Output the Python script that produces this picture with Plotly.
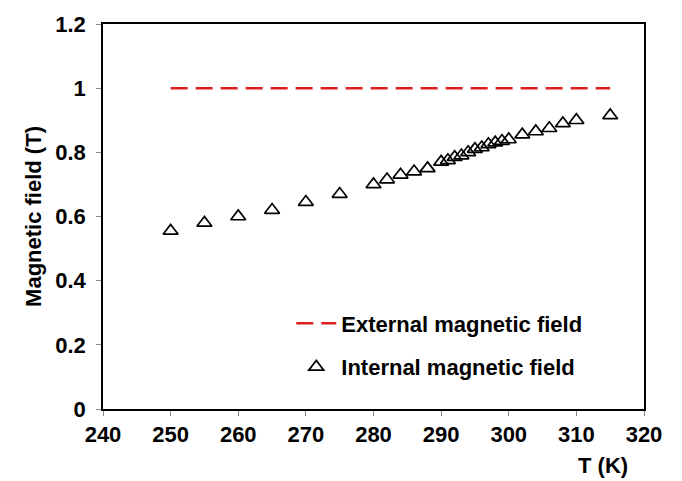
import plotly.graph_objects as go

ext_T = [250, 315]
ext_B = [1.0, 1.0]

int_T = [250, 255, 260, 265, 270, 275, 280, 282, 284, 286, 288, 290, 291, 292, 293,
         294, 295, 296, 297, 298, 299, 300, 302, 304, 306, 308, 310, 315]
int_B = [0.555, 0.58, 0.60, 0.62, 0.645, 0.67, 0.70, 0.715, 0.73, 0.74, 0.75, 0.77,
         0.775, 0.785, 0.79, 0.80, 0.81, 0.815, 0.825, 0.83, 0.835, 0.84, 0.855,
         0.865, 0.875, 0.89, 0.90, 0.915]

x_ticks = [240, 250, 260, 270, 280, 290, 300, 310, 320]
y_ticks = [0, 0.2, 0.4, 0.6, 0.8, 1, 1.2]
y_tick_text = ["0", "0.2", "0.4", "0.6", "0.8", "1", "1.2"]

font_family = "Liberation Sans, Arial, sans-serif"
bold = dict(family=font_family, size=22, color="black", weight="bold")

fig = go.Figure()
fig.add_trace(go.Scatter(
    x=ext_T, y=ext_B, mode="lines", name="External magnetic field",
    line=dict(color="#dd1f1f", width=2.5, dash="17px,8px"),
    legendgroup="a",
))
fig.add_trace(go.Scatter(
    x=int_T, y=int_B, mode="markers", name="Internal magnetic field",
    marker=dict(symbol="triangle-up-open", size=13, color="black",
                line=dict(width=1.7, color="black")),
    legendgroup="b",
))

fig.update_layout(
    width=682, height=481,
    margin=dict(l=103, r=38, t=19, b=72),
    paper_bgcolor="white", plot_bgcolor="white",
    font=bold,
    showlegend=True,
    legend=dict(
        x=0.348, y=0.165, xanchor="left", yanchor="middle",
        bgcolor="rgba(0,0,0,0)",
        font=dict(size=22, family=font_family, color="black", weight="bold"),
        tracegroupgap=12, itemwidth=40,
    ),
    xaxis=dict(
        range=[240, 320], tickvals=x_ticks, ticks="outside", ticklen=5,
        tickcolor="#888888", showline=True, linecolor="black", linewidth=1.5,
        mirror=True, showgrid=False, zeroline=False,
        tickfont=bold,
    ),
    yaxis=dict(
        range=[0, 1.2], tickvals=y_ticks, ticktext=y_tick_text, ticks="outside",
        ticklen=5, tickcolor="#888888", showline=True, linecolor="black",
        linewidth=1.5, mirror=True, showgrid=False, zeroline=False,
        tickfont=bold, ticklabelstandoff=6,
        title=dict(text="Magnetic field (T)", standoff=8, font=bold),
    ),
    annotations=[dict(
        text="T (K)", x=0.924, y=-0.11, xref="paper", yref="paper",
        xanchor="center", yanchor="top", showarrow=False,
        font=bold,
    )],
)

fig.write_html("out.html")
